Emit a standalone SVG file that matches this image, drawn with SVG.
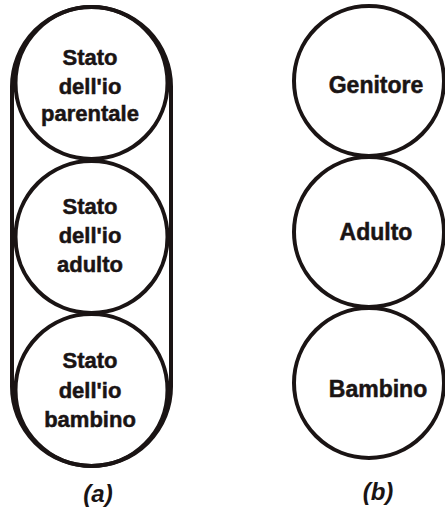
<svg xmlns="http://www.w3.org/2000/svg" width="445" height="513" viewBox="0 0 445 513">
<style>
.s{fill:none;stroke:#1a1414;stroke-width:4}
.t{font-family:"Liberation Sans",Arial,sans-serif;font-weight:bold;font-size:22px;fill:#1a1414;stroke:#1a1414;stroke-width:0.5;text-anchor:middle}
.u{font-family:"Liberation Sans",Arial,sans-serif;font-weight:bold;font-size:23px;fill:#1a1414;stroke:#1a1414;stroke-width:0.5;text-anchor:middle}
.l{font-family:"Liberation Sans",Arial,sans-serif;font-style:italic;font-weight:bold;font-size:24px;fill:#1a1414;text-anchor:middle}
</style>
<rect width="445" height="513" fill="#ffffff"/>
<g id="a-outline">
<rect class="s" x="12" y="7" width="159" height="459" rx="79.5" ry="79.5"/>
</g>
<g id="a-parentale">
<circle class="s" cx="91.5" cy="83" r="76"/>
<text class="t" x="90" y="65">Stato</text>
<text class="t" x="90" y="94">dell'io</text>
<text class="t" x="90" y="121">parentale</text>
</g>
<g id="a-adulto">
<circle class="s" cx="91.5" cy="237" r="76"/>
<text class="t" x="90" y="214">Stato</text>
<text class="t" x="90" y="243">dell'io</text>
<text class="t" x="90" y="272">adulto</text>
</g>
<g id="a-bambino">
<circle class="s" cx="91.5" cy="390" r="76"/>
<text class="t" x="90" y="368">Stato</text>
<text class="t" x="90" y="398">dell'io</text>
<text class="t" x="90" y="427">bambino</text>
</g>
<g id="b-genitore">
<circle class="s" cx="369" cy="81" r="75"/>
<text class="u" x="376" y="93">Genitore</text>
</g>
<g id="b-adulto">
<circle class="s" cx="369" cy="232" r="75"/>
<text class="u" x="376" y="240">Adulto</text>
</g>
<g id="b-bambino">
<circle class="s" cx="369" cy="383" r="75"/>
<text class="u" x="378" y="397">Bambino</text>
</g>
<g id="connectors"></g>
<text class="l" x="98" y="502">(a)</text>
<text class="l" x="378" y="500">(b)</text>
</svg>
